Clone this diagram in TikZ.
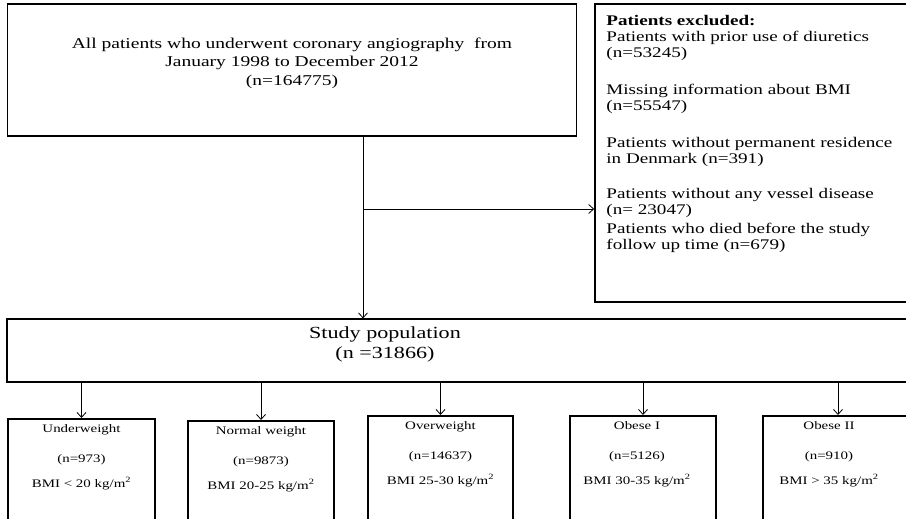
\documentclass[tikz,border=0pt]{standalone}
\usepackage{fontspec}
\setmainfont{Liberation Serif}[FakeStretch=1.3]
\usetikzlibrary{positioning, arrows.meta}

\begin{document}
\begin{tikzpicture}[x=1pt, y=-1pt,
                frame/.style={draw=black, line width=1.3pt, rectangle, inner sep=0pt},
                catbox/.style={frame, line width=1.6pt, minimum height=130pt, anchor=north},
                cattext/.style={align=center, inner sep=0pt, font=\fontsize{11.5}{14}\selectfont},
                arr/.style={line width=0.8pt, -{Straight Barb[length=5pt, width=9pt]}}
            ]
            \useasboundingbox (0,0) rectangle (906,519);

            % Kaesten
            \node[frame, minimum width=569pt, minimum height=132pt] (all) at (292,70) {};
            \node[align=center, inner sep=0pt, font=\fontsize{15}{18.5}\selectfont, below=34pt of all.north] (alltext) {All patients who underwent coronary angiography \ from\\January 1998 to December 2012\\(n=164775)};
            \node[frame, line width=1.6pt, minimum width=325pt, minimum height=298pt] (excl) at (757.5,153) {};
            \node[align=left, inner sep=0pt, font=\fontsize{14.7}{16}\selectfont, below right=12pt and 12pt of excl.north west] (excltext) {\textbf{Patients excluded:}\\Patients with prior use of diuretics\\(n=53245)\\[21pt]Missing information about BMI\\(n=55547)\\[21pt]Patients without permanent residence\\in Denmark (n=391)\\[19pt]Patients without any vessel disease\\(n= 23047)\\[3pt]Patients who died before the study\\follow up time (n=679)};
            \node[frame, line width=1.2pt, minimum width=913pt, minimum height=63pt] (study) at (463.5,350.5) {};
            \node[align=center, inner sep=0pt, font=\fontsize{17}{20}\selectfont, anchor=north] (studytext) at (385,327) {Study population\\(n =31866)};
            \coordinate (split) at (363,209);

            \node[catbox, minimum width=147pt] (uw) at (81.5,418) {};
            \node[catbox, minimum width=146pt] (nw) at (261,420) {};
            \node[catbox, minimum width=145pt] (ow) at (440.5,415) {};
            \node[catbox, minimum width=146pt] (ob1) at (643,415) {};
            \node[catbox, minimum width=150pt] (ob2) at (838,415) {};
            \node[cattext, below=6pt of uw.north] (uwtext) {Underweight\\[16pt](n=973)\\[11pt]BMI < 20 kg/m\textsuperscript{2}};
            \node[cattext, below=6pt of nw.north] (nwtext) {Normal weight\\[16pt](n=9873)\\[11pt]BMI 20-25 kg/m\textsuperscript{2}};
            \node[cattext, below=6pt of ow.north] (owtext) {Overweight\\[16pt](n=14637)\\[11pt]BMI 25-30 kg/m\textsuperscript{2}};
            \node[cattext, below=6pt of ob1.north, xshift=-6pt] (ob1text) {Obese I\\[16pt](n=5126)\\[11pt]BMI 30-35 kg/m\textsuperscript{2}};
            \node[cattext, below=6pt of ob2.north, xshift=-9pt] (ob2text) {Obese II\\[16pt](n=910)\\[11pt]BMI > 35 kg/m\textsuperscript{2}};

            % Pfeile
            \draw[arr] (split |- all.south) -- (split |- study.north);
            \draw[arr] (split) -- (excl.west |- split);
            \draw[arr] (uw.north |- study.south) -- (uw.north);
            \draw[arr] (nw.north |- study.south) -- (nw.north);
            \draw[arr] (ow.north |- study.south) -- (ow.north);
            \draw[arr] (ob1.north |- study.south) -- (ob1.north);
            \draw[arr] (ob2.north |- study.south) -- (ob2.north);

        \end{tikzpicture}
\end{document}
